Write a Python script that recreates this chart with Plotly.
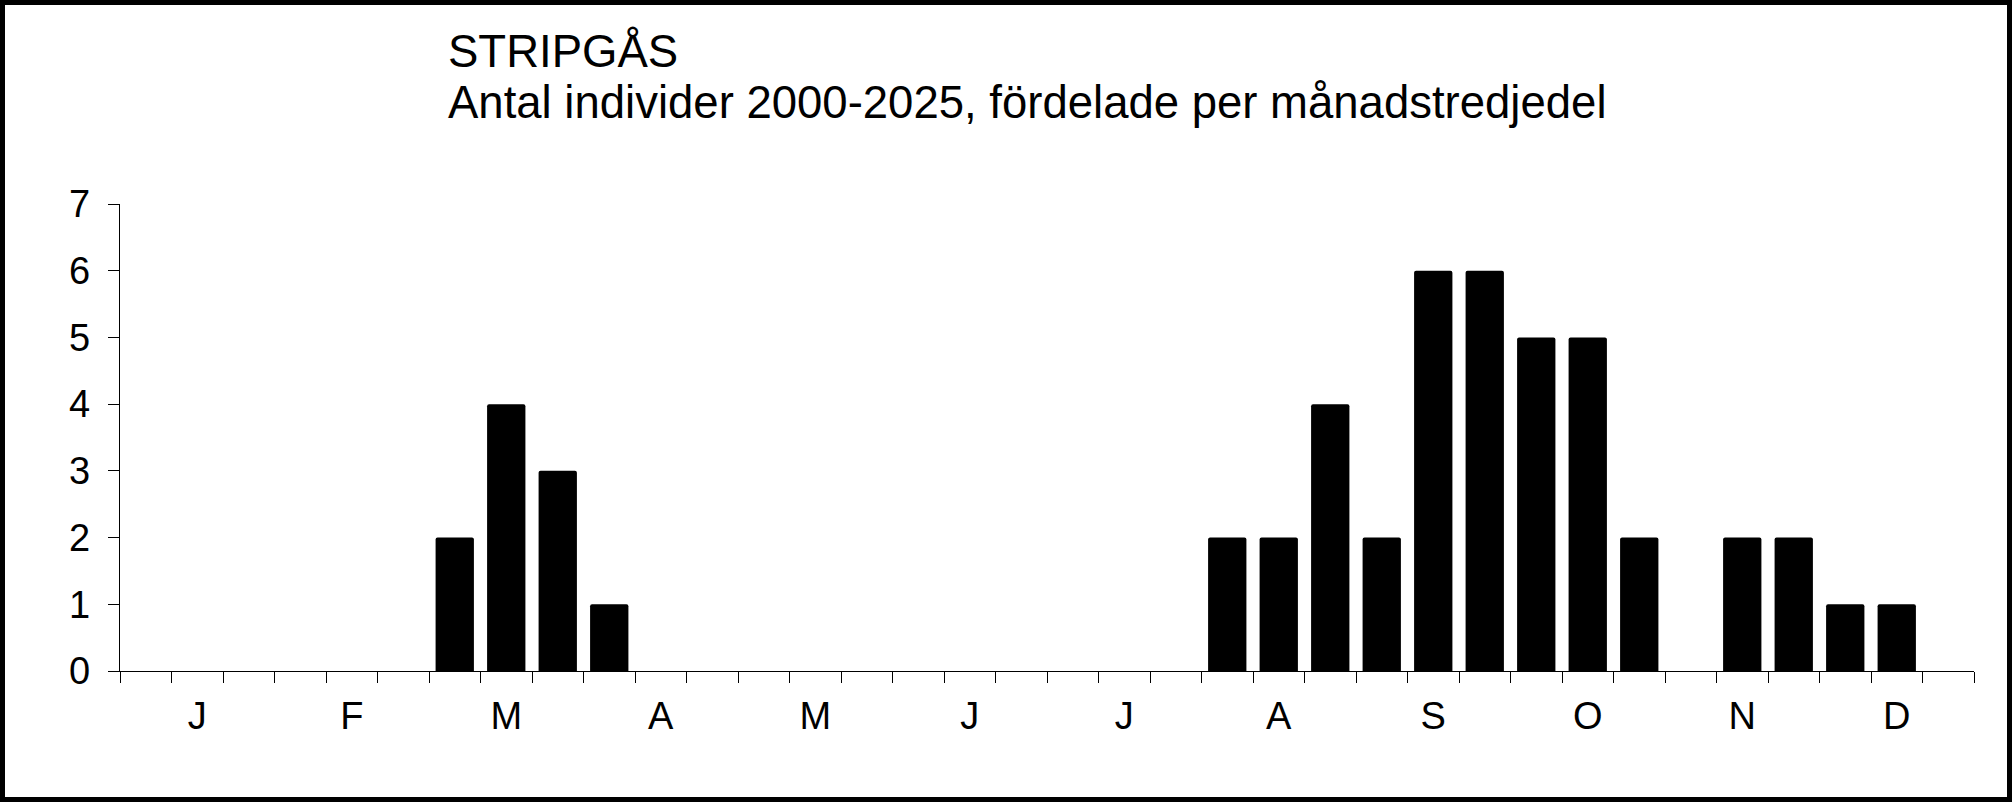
import plotly.graph_objects as go

# 36 month-thirds (Jan 1st third ... Dec 3rd third)
months = ["J", "F", "M", "A", "M", "J", "J", "A", "S", "O", "N", "D"]
thirds = list(range(36))
counts = [0, 0, 0,   0, 0, 0,   2, 4, 3,   1, 0, 0,
          0, 0, 0,   0, 0, 0,   0, 0, 0,   2, 2, 4,
          2, 6, 6,   5, 5, 2,   0, 2, 2,   1, 1, 0]
yticks = [0, 1, 2, 3, 4, 5, 6, 7]
title_line1 = "STRIPGÅS"
title_line2 = "Antal individer 2000-2025, fördelade per månadstredjedel"

W, H = 2012, 802
L, R, T, B = 120, 38, 204, 131
PW, PH = W - L - R, H - T - B
FONT = "Liberation Sans, Arial, sans-serif"
TICKSIZE = 38
TITLESIZE = 45.5

fig = go.Figure(go.Bar(
    x=thirds, y=counts,
    marker=dict(color="black", line=dict(width=0), cornerradius=2),
    showlegend=False,
))

fig.update_layout(
    width=W, height=H,
    margin=dict(l=L, r=R, t=T, b=B),
    paper_bgcolor="white", plot_bgcolor="white",
    bargap=0.256,
    font=dict(family=FONT, color="black"),
    xaxis=dict(
        range=[-0.5, 35.5],
        tickmode="array",
        tickvals=[3 * i + 1 for i in range(12)],
        ticktext=months,
        ticks="",
        showline=True, linecolor="black", linewidth=1.3,
        showgrid=False, zeroline=False,
        tickfont=dict(size=TICKSIZE, family=FONT, color="black"),
        ticklabelstandoff=11,
        minor=dict(tickmode="array", tickvals=[i - 0.5 for i in range(37)],
                   ticks="outside", ticklen=11, tickwidth=1.3, tickcolor="black",
                   showgrid=False),
        fixedrange=True,
    ),
    yaxis=dict(
        range=[0, 7],
        tickmode="array", tickvals=yticks,
        ticks="outside", ticklen=11, tickwidth=1.3, tickcolor="black",
        showline=True, linecolor="black", linewidth=1.3,
        showgrid=False, zeroline=False,
        tickfont=dict(size=TICKSIZE, family=FONT, color="black"),
        ticklabelstandoff=10,
        fixedrange=True,
    ),
)

def px_x(p):
    return (p - L) / PW

def px_y(p):
    return (H - p - B) / PH

# outer frame
fig.add_shape(type="rect", xref="paper", yref="paper",
              x0=px_x(2.5), x1=px_x(W - 2.5), y0=px_y(H - 2.5), y1=px_y(2.5),
              line=dict(color="black", width=5), fillcolor="rgba(0,0,0,0)", layer="above")

fig.add_annotation(text=title_line1, xref="paper", yref="paper",
                   x=px_x(446), y=px_y(79), xanchor="left", yanchor="bottom",
                   showarrow=False, font=dict(size=TITLESIZE, family=FONT, color="black"))
fig.add_annotation(text=title_line2, xref="paper", yref="paper",
                   x=px_x(446), y=px_y(130), xanchor="left", yanchor="bottom",
                   showarrow=False, font=dict(size=TITLESIZE, family=FONT, color="black"))

fig.write_html(
    "out.html",
    config={"displayModeBar": False},
    post_script="document.body.style.margin='0';document.body.style.padding='0';"
                "document.body.style.overflow='hidden';",
)
